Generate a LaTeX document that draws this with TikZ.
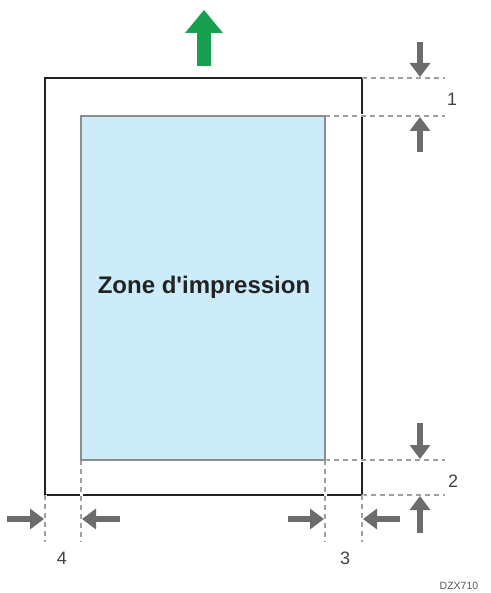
\documentclass[tikz,border=0pt]{standalone}
\usepackage{fontspec}
\setmainfont{Liberation Sans}
\usetikzlibrary{arrows.meta}
\definecolor{paperblue}{RGB}{204,236,250}
\definecolor{arrgray}{RGB}{108,108,108}
\definecolor{dashgray}{RGB}{160,160,160}
\definecolor{upgreen}{RGB}{22,160,80}
\definecolor{txtdark}{RGB}{34,34,34}
\tikzset{
  gap/.style={draw=dashgray, line width=1.2pt, dash pattern=on 5pt off 4pt,
              preaction={draw=white, line width=3pt, solid}},
  garrow/.style={draw=arrgray, line width=5.5pt, -{Triangle[width=20pt,length=14pt]}},
  numlbl/.style={font=\fontsize{18}{18}\selectfont, text=txtdark!85, inner sep=0pt},
}
\begin{document}
\begin{tikzpicture}[x=1pt,y=-1pt]
\useasboundingbox (0,0) rectangle (490,593);
% corners
\coordinate (OTL) at (45,78);  \coordinate (OBR) at (362,495);
\coordinate (ITL) at (81,116); \coordinate (IBR) at (325,460);
% outer paper
\draw[line width=2.4pt, draw=txtdark] (OTL) rectangle (OBR);
% dashed guides
\draw[gap] (362,78) -- (445,78);
\draw[gap] (325,116) -- (445,116);
\draw[gap] (325,460) -- (445,460);
\draw[gap] (362,495) -- (445,495);
\draw[gap] (45,495) -- (45,542);
\draw[gap] (81,460) -- (81,542);
\draw[gap] (325,460) -- (325,542);
\draw[gap] (362,495) -- (362,542);
% printable area
\draw[fill=paperblue, draw=gray!90, line width=1.3pt] (ITL) rectangle (IBR);
\node[font=\bfseries\fontsize{24}{24}\selectfont, text=txtdark, inner sep=0pt] (zone) at (204,287) {Zone d\textquotesingle impression};
% green arrow
\fill[upgreen] (204,10) -- (223,33) -- (211,33) -- (211,66) -- (197,66) -- (197,33) -- (185,33) -- cycle;
% top arrows
\coordinate (a1s) at (420,42);  \coordinate (a1e) at (420,77);
\coordinate (a2s) at (420,152); \coordinate (a2e) at (420,117);
\draw[garrow] (a1s) -- (a1e);
\draw[garrow] (a2s) -- (a2e);
\node[numlbl] (n1) at (452,99) {1};
% bottom-right vertical arrows
\coordinate (b1s) at (420,423); \coordinate (b1e) at (420,459);
\coordinate (b2s) at (420,533); \coordinate (b2e) at (420,496);
\draw[garrow] (b1s) -- (b1e);
\draw[garrow] (b2s) -- (b2e);
\node[numlbl] (n2) at (453,481) {2};
% horizontal arrows
\coordinate (c1s) at (7,519);   \coordinate (c1e) at (44,519);
\coordinate (c2s) at (120,519); \coordinate (c2e) at (82,519);
\coordinate (d1s) at (288,519); \coordinate (d1e) at (324,519);
\coordinate (d2s) at (400,519); \coordinate (d2e) at (363,519);
\draw[garrow] (c1s) -- (c1e);
\draw[garrow] (c2s) -- (c2e);
\draw[garrow] (d1s) -- (d1e);
\draw[garrow] (d2s) -- (d2e);
\node[numlbl] (n4) at (62,558) {4};
\node[numlbl] (n3) at (345,558) {3};
\node[font=\fontsize{10.5}{10.5}\selectfont, text=black!65, inner sep=0pt] (code) at (459,586) {DZX710};
\end{tikzpicture}
\end{document}
